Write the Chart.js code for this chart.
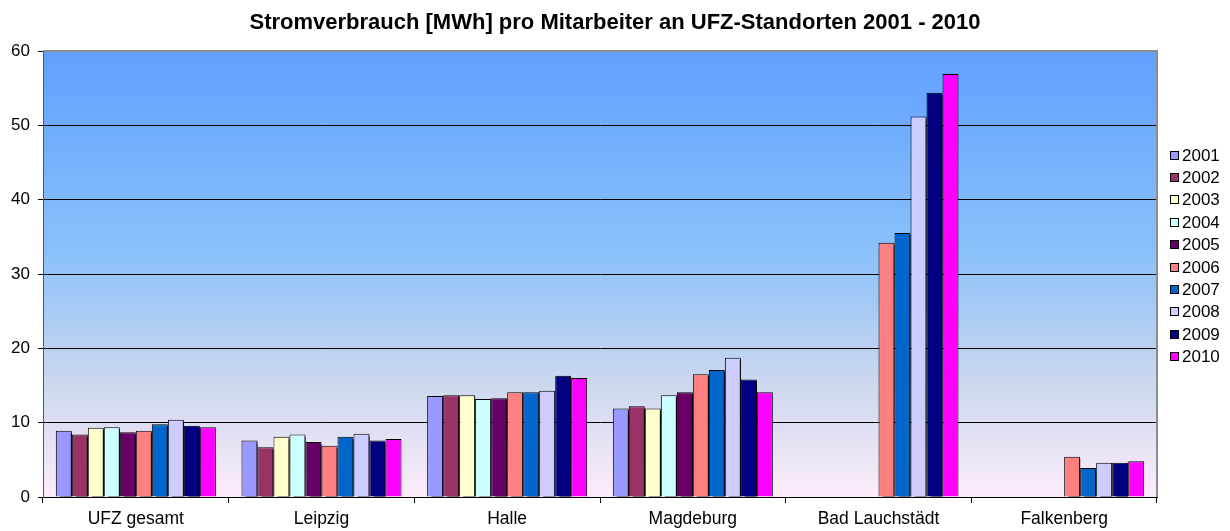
<!DOCTYPE html>
<html>
<head>
<meta charset="utf-8">
<script src="https://cdn.jsdelivr.net/npm/chart.js@4/dist/chart.umd.min.js"></script>
<style>
  body { margin: 0; background: #fff; }
</style>
</head>
<body>
<canvas id="chart" width="1230" height="531"></canvas>
<script>
// categories and series (MWh per employee)
var categories = ['UFZ gesamt', 'Leipzig', 'Halle', 'Magdeburg', 'Bad Lauchstädt', 'Falkenberg'];
var years = ['2001', '2002', '2003', '2004', '2005', '2006', '2007', '2008', '2009', '2010'];
var yTicks = [0, 10, 20, 30, 40, 50, 60];

var v2001 = [8.9, 7.6, 13.6, 11.9, null, null];
var v2002 = [8.4, 6.7, 13.7, 12.2, null, null];
var v2003 = [9.3, 8.1, 13.7, 11.9, null, null];
var v2004 = [9.4, 8.4, 13.2, 13.7, null, null];
var v2005 = [8.7, 7.4, 13.3, 14.1, null, null];
var v2006 = [8.9, 6.9, 14.1, 16.5, 34.2, 5.4];
var v2007 = [9.8, 8.1, 14.1, 17.1, 35.5, 3.9];
var v2008 = [10.4, 8.5, 14.3, 18.75, 51.2, 4.6];
var v2009 = [9.6, 7.6, 16.3, 15.8, 54.4, 4.6];
var v2010 = [9.4, 7.8, 16.0, 14.1, 56.9, 4.8];

var seriesValues = [v2001, v2002, v2003, v2004, v2005, v2006, v2007, v2008, v2009, v2010];
var seriesColors = ['#9999FF', '#993366', '#FFFFCC', '#CCFFFF', '#660066',
                    '#FF8080', '#0066CC', '#CCCCFF', '#000080', '#FF00FF'];

var titleText = 'Stromverbrauch [MWh] pro Mitarbeiter an UFZ-Standorten 2001 - 2010';
var fontFamily = '"Liberation Sans", Arial, sans-serif';

var datasets = years.map(function (y, i) {
    return {
        label: y,
        data: seriesValues[i],
        backgroundColor: seriesColors[i],
        borderColor: '#000',
        borderWidth: 1,
        borderSkipped: 'bottom'
    };
});

// gradient plot background, area border, title and legend
var decorPlugin = {
    id: 'decor',
    beforeDraw: function (chart) {
        var ctx = chart.ctx, a = chart.chartArea;
        var g = ctx.createLinearGradient(0, a.top, 0, a.bottom);
        g.addColorStop(0, 'rgb(96,159,255)');
        g.addColorStop(0.45, 'rgb(138,193,250)');
        g.addColorStop(0.75, 'rgb(205,216,238)');
        g.addColorStop(1, 'rgb(253,236,250)');
        ctx.save();
        ctx.fillStyle = g;
        ctx.fillRect(a.left, a.top, a.right - a.left, a.bottom - a.top);
        ctx.restore();
    },
    beforeDatasetDraw: function (chart, args) {
        var ctx = chart.ctx;
        ctx.save();
        if (args.index < years.length - 1) {
            ctx.shadowColor = '#000';
            ctx.shadowOffsetX = 4;
            ctx.shadowOffsetY = 2;
            ctx.shadowBlur = 0;
        }
    },
    afterDatasetDraw: function (chart) {
        chart.ctx.restore();
    },
    afterDraw: function (chart) {
        var ctx = chart.ctx, a = chart.chartArea;
        ctx.save();
        // top and right border of plot area
        ctx.strokeStyle = '#8c8c8c';
        ctx.lineWidth = 2;
        ctx.beginPath();
        ctx.moveTo(a.left, a.top);
        ctx.lineTo(a.right, a.top);
        ctx.lineTo(a.right, a.bottom);
        ctx.stroke();

        // title
        ctx.fillStyle = '#000';
        ctx.font = 'bold 22px ' + fontFamily;
        ctx.textAlign = 'center';
        ctx.textBaseline = 'middle';
        ctx.fillText(titleText, 615, 23);

        // legend
        ctx.font = '17px ' + fontFamily;
        ctx.textAlign = 'left';
        ctx.lineWidth = 1;
        ctx.strokeStyle = '#000';
        chart.data.datasets.forEach(function (ds, i) {
            var cy = 155 + i * 22.4;
            ctx.fillStyle = ds.backgroundColor;
            ctx.fillRect(1170, Math.round(cy - 4.5), 9, 9);
            ctx.strokeRect(1170.5, Math.round(cy - 4.5) + 0.5, 8, 8);
            ctx.fillStyle = '#000';
            ctx.fillText(ds.label, 1182, cy + 1);
        });
        ctx.restore();
    }
};

new Chart(document.getElementById('chart'), {
    type: 'bar',
    data: { labels: categories, datasets: datasets },
    plugins: [decorPlugin],
    options: {
        responsive: false,
        animation: false,
        devicePixelRatio: 1,
        layout: { padding: { top: 51, right: 73, bottom: 0, left: 0 } },
        datasets: {
            bar: { categoryPercentage: 0.862, barPercentage: 1 }
        },
        plugins: {
            legend: { display: false },
            title: { display: false },
            tooltip: { enabled: false }
        },
        scales: {
            x: {
                afterFit: function (scale) { scale.height = 34; },
                grid: {
                    offset: true,
                    drawOnChartArea: false,
                    drawTicks: true,
                    tickLength: 6,
                    color: '#000'
                },
                border: { color: '#000', width: 1 },
                ticks: {
                    color: '#000',
                    padding: 6,
                    maxRotation: 0,
                    font: { family: fontFamily, size: 17.5 }
                }
            },
            y: {
                min: 0,
                max: 60,
                afterFit: function (scale) { scale.width = 43; },
                afterBuildTicks: function (scale) {
                    scale.ticks = yTicks.map(function (v) { return { value: v }; });
                },
                grid: {
                    color: function (c) { return c.tick && c.tick.value === 60 ? 'rgba(0,0,0,0)' : '#000'; },
                    tickColor: '#000',
                    tickLength: 5,
                    lineWidth: 1
                },
                border: { color: '#555', width: 1 },
                ticks: {
                    color: '#000',
                    padding: 8,
                    font: { family: fontFamily, size: 17 }
                }
            }
        }
    }
});
</script>
</body>
</html>
